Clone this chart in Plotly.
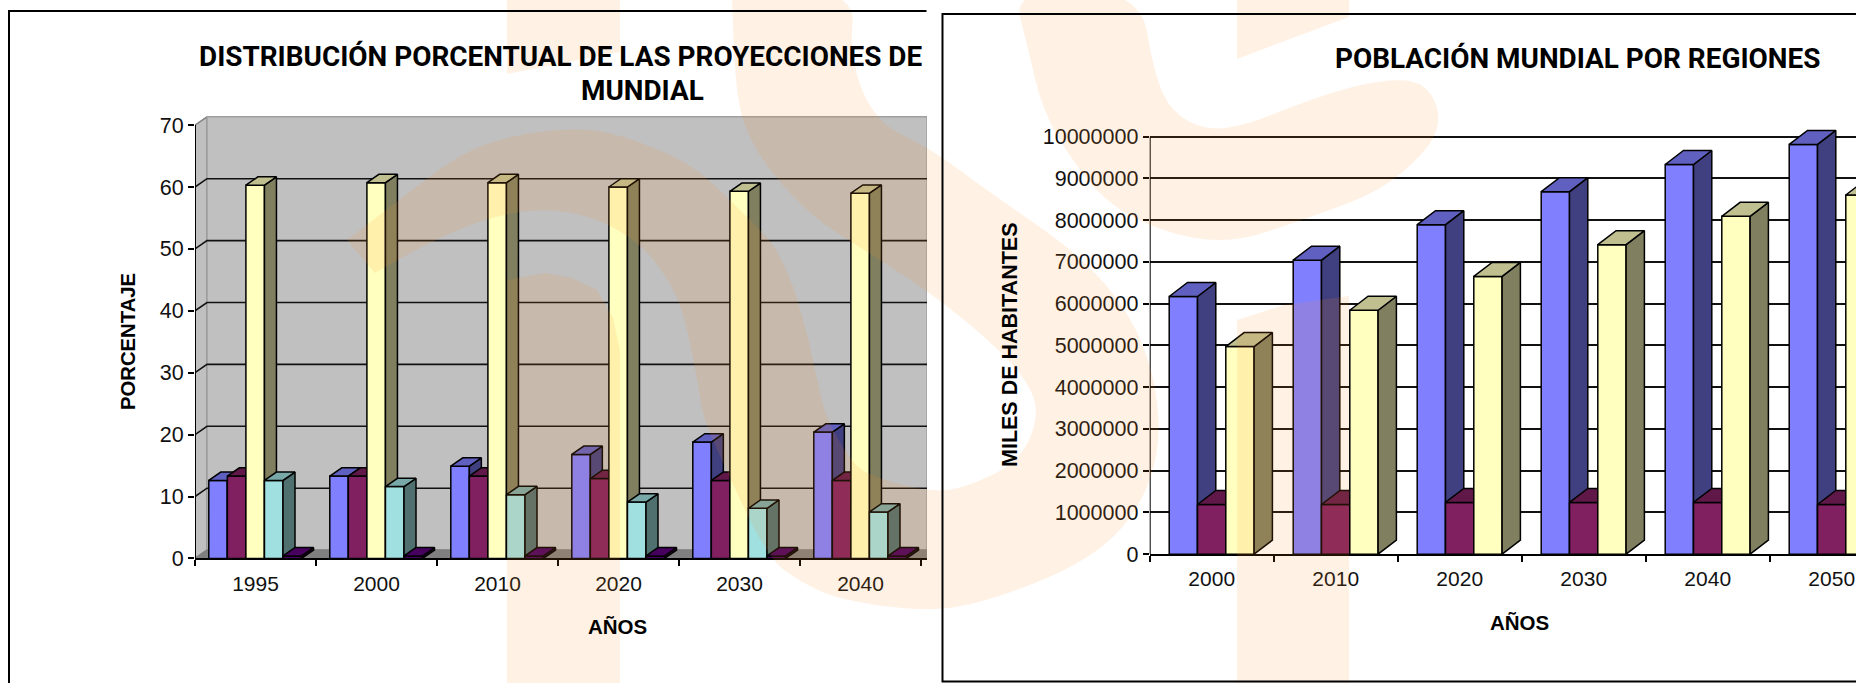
import plotly.graph_objects as go

# ---------- data ----------
YEARS_L = ["1995", "2000", "2010", "2020", "2030", "2040"]
L_BLUE = [12.6, 13.3, 14.9, 16.8, 18.8, 20.4]
L_MAROON = [13.3, 13.3, 13.3, 12.9, 12.6, 12.6]
L_YELLOW = [60.3, 60.7, 60.7, 60.0, 59.3, 59.0]
L_TEAL = [12.6, 11.6, 10.3, 9.1, 8.1, 7.5]
L_PURPLE = [0.4, 0.4, 0.4, 0.4, 0.4, 0.4]
L_TICKS = [0, 10, 20, 30, 40, 50, 60, 70]

YEARS_R = ["2000", "2010", "2020", "2030", "2040", "2050"]
R_BLUE = [6170000, 7040000, 7890000, 8680000, 9330000, 9810000]
R_MAROON = [1190000, 1190000, 1240000, 1240000, 1240000, 1190000]
R_YELLOW = [4970000, 5840000, 6650000, 7410000, 8090000, 8600000]
R_TICKS = [0, 1000000, 2000000, 3000000, 4000000, 5000000, 6000000, 7000000, 8000000, 9000000, 10000000]

TITLE_L1 = "DISTRIBUCIÓN PORCENTUAL DE LAS PROYECCIONES DE"
TITLE_L2 = "MUNDIAL"
TITLE_R = "POBLACIÓN MUNDIAL POR REGIONES"
YTITLE_L = "PORCENTAJE"
YTITLE_R = "MILES DE HABITANTES"
XTITLE = "AÑOS"

# ---------- colours: front, side, top ----------
BLUE = ("#8080FF", "#404080", "#6060C0")
MAROON = ("#802060", "#401030", "#601848")
YELLOW = ("#FFFFC0", "#808060", "#BFBF90")
TEAL = ("#A0E0E0", "#507070", "#78A8A8")
PURPLE = ("#600080", "#300040", "#480060")
WM = "rgba(255,140,30,0.12)"

W, H = 1856, 683
FONT = "Liberation Sans"
HEAD = "Roboto"

# ---------- geometry in pixels ----------
L_X0, L_X1, L_Y0, L_STEP = 195.0, 927.0, 558.4, 6.19     # px per unit
L_CAT = 121.0
R_X0, R_X1, R_Y0, R_STEP = 1149.7, 1856.0, 554.2, 41.77e-6
R_CAT = 124.0


def px(x):
    return x / W


def py(y):
    return 1 - y / H


def smooth_path(points):
    """Closed path rounded through midpoints, in paper coordinates."""
    pts = [(px(a), py(b)) for a, b in points]
    n = len(pts)
    mid = lambda p, q: ((p[0] + q[0]) / 2, (p[1] + q[1]) / 2)
    m0 = mid(pts[-1], pts[0])
    d = f"M{m0[0]:.5f},{m0[1]:.5f}"
    for i in range(n):
        m = mid(pts[i], pts[(i + 1) % n])
        d += f" Q{pts[i][0]:.5f},{pts[i][1]:.5f} {m[0]:.5f},{m[1]:.5f}"
    return d + " Z"


fig = go.Figure()
layout = dict(
    template="none",
    width=W, height=H, autosize=False, margin=dict(l=0, r=0, t=0, b=0, pad=0),
    paper_bgcolor="white", plot_bgcolor="rgba(0,0,0,0)", showlegend=False,
    font=dict(family=FONT, color="#111111", size=21), hovermode=False,
)


def add_chart(main, x0, x1, y0, step, cat_w, cats, ticks, ymax, series, left_gap, bar_w_px, dx_px, dy_px, next_axis, wall):
    xa, ya = ("xaxis", "yaxis") if main == 1 else (f"xaxis{main}", f"yaxis{main}")
    xid, yid = ("x", "y") if main == 1 else (f"x{main}", f"y{main}")
    xmin, xmax = -0.5, (x1 - x0) / cat_w - 0.5
    idx = list(range(len(cats)))
    bounds = [i - 0.5 for i in range(len(cats) + 1) if i - 0.5 <= xmax]
    layout[xa] = dict(
        domain=[px(x0), px(x1)], range=[xmin, xmax], anchor=yid, tickmode="array", tickvals=idx, ticktext=cats,
        ticks="", showgrid=False, zeroline=False, showline=True, linecolor="#000", linewidth=2, automargin=False,
        tickfont=dict(size=21, family=FONT, color="#111"), ticklabelstandoff=5,
        minor=dict(tickmode="array", tickvals=bounds, ticks="outside", ticklen=6, tickwidth=1.5, tickcolor="#000", showgrid=False),
    )
    layout[ya] = dict(
        domain=[py(y0), py(y0 - ymax * step)], range=[0, ymax], anchor=xid, tickmode="array", tickvals=ticks,
        ticks="outside", ticklen=6, tickwidth=1.5, tickcolor="#000", zeroline=False, showline=False, automargin=False,
        showgrid=not wall, gridcolor="#111", gridwidth=1.5, tickformat="d",
        tickfont=dict(size=21.5, family=FONT, color="#111"),
    )
    dx, dy = dx_px / cat_w, dy_px / step
    top = ticks[-1]
    if wall:
        wx = xmin + dx
        for xs, ys, col, lc in [
            ([xmin, wx, wx, xmin, xmin], [0, dy, top + dy, top, 0], "#C0C0C0", "#808080"),
            ([wx, xmax, xmax, wx, wx], [dy, dy, top + dy, top + dy, dy], "#C0C0C0", "#A0A0A0"),
            ([xmin, wx, xmax, xmax, xmin], [0, dy, dy, 0, 0], "#808080", "#808080"),
        ]:
            fig.add_trace(go.Scatter(x=xs, y=ys, mode="lines", fill="toself", fillcolor=col,
                                     line=dict(color=lc, width=1.5), xaxis=xid, yaxis=yid))
        gx, gy = [], []
        for v in ticks[1:-1]:
            gx += [xmin, wx, xmax, None]
            gy += [v, v + dy, v + dy, None]
        fig.add_trace(go.Scatter(x=gx, y=gy, mode="lines", line=dict(color="#111", width=1.6), xaxis=xid, yaxis=yid))
    fig.add_trace(go.Scatter(x=[xmin, xmin], y=[0, top], mode="lines", line=dict(color="#000", width=2),
                             cliponaxis=False, xaxis=xid, yaxis=yid))

    bw = bar_w_px / cat_w
    start = -0.5 + left_gap / cat_w
    for k, (vals, (front, side, topc)) in enumerate(series):
        n = next_axis + k
        layout[f"xaxis{n}"] = dict(overlaying=xid, range=[xmin, xmax], visible=False, anchor=f"y{n}")
        layout[f"yaxis{n}"] = dict(overlaying=yid, range=[0, ymax], visible=False, anchor=f"x{n}")
        off = start + k * bw
        fig.add_trace(go.Bar(x=idx, y=vals, offset=off, width=bw, marker=dict(color=front, line=dict(color="#000", width=1.5)),
                             xaxis=f"x{n}", yaxis=f"y{n}"))
        sx, sy, tx, ty = [], [], [], []
        for i, v in zip(idx, vals):
            a, b = i + off, i + off + bw
            sx += [b, b + dx, b + dx, b, b, None]
            sy += [0, dy, v + dy, v, 0, None]
            tx += [a, a + dx, b + dx, b, a, None]
            ty += [v, v + dy, v + dy, v, v, None]
        fig.add_trace(go.Scatter(x=sx, y=sy, mode="lines", fill="toself", fillcolor=side,
                                 line=dict(color="#000", width=1.5), xaxis=f"x{n}", yaxis=f"y{n}"))
        fig.add_trace(go.Scatter(x=tx, y=ty, mode="lines", fill="toself", fillcolor=topc,
                                 line=dict(color="#000", width=1.5), xaxis=f"x{n}", yaxis=f"y{n}"))


add_chart(1, L_X0, L_X1, L_Y0, L_STEP, L_CAT, YEARS_L, L_TICKS, 72,
          [(L_BLUE, BLUE), (L_MAROON, MAROON), (L_YELLOW, YELLOW), (L_TEAL, TEAL), (L_PURPLE, PURPLE)],
          13.8, 18.55, 12.0, 8.3, 3, True)
add_chart(2, R_X0, R_X1, R_Y0, R_STEP, R_CAT, YEARS_R, R_TICKS, 10500000,
          [(R_BLUE, BLUE), (R_MAROON, MAROON), (R_YELLOW, YELLOW)],
          19.5, 28.3, 18.3, 14.0, 8, False)

# ---------- text ----------
annots = [
    (198.5, 56.5, TITLE_L1, 27.9, HEAD, True, "left", 0),
    (642, 90.5, TITLE_L2, 27.9, HEAD, True, "center", 0),
    (1577, 59, TITLE_R, 27.9, HEAD, True, "center", 0),
    (128, 342, YTITLE_L, 20.3, FONT, True, "center", -90),
    (1010, 345, YTITLE_R, 21.5, FONT, True, "center", -90),
    (617, 626, XTITLE, 20.5, FONT, True, "center", 0),
    (1519.5, 622, XTITLE, 20.5, FONT, True, "center", 0),
]
layout["annotations"] = [
    dict(x=px(x), y=py(y), xref="paper", yref="paper", text=f"<b>{t}</b>", showarrow=False, xanchor=a, yanchor="middle",
         textangle=ang, font=dict(size=s, family=f, color="#000"), borderpad=0, borderwidth=0)
    for x, y, t, s, f, b, a, ang in annots
]

# ---------- background logo (drawn on top as a tint) and panel frames ----------
SWIRL = [(732, 0), (735, 78), (743, 127), (770, 172), (813, 217), (853, 243), (927, 290), (989, 340), (1030, 383),
         (1039, 418), (1019, 462), (965, 488), (930, 492), (873, 477), (852, 463), (827, 420), (820, 393), (813, 360),
         (803, 317), (790, 277), (773, 243), (747, 217), (713, 183), (687, 163), (653, 147), (613, 133), (573, 128),
         (512, 135), (462, 153), (412, 190), (347, 240), (347, 240), (375, 273), (375, 273), (428, 243), (488, 217), (545, 208),
         (595, 217), (640, 243), (667, 277), (683, 310), (697, 377), (703, 417), (717, 450), (767, 557), (800, 582),
         (840, 600), (927, 612), (989, 601), (1078, 566), (1131, 523), (1160, 457), (1157, 383), (1131, 314), (1078, 253),
         (989, 192), (930, 148), (875, 122), (849, 57), (856, -10), (732, -10)]
HOOK = [(1013, -10), (1027, 44), (1042, 109), (1072, 161), (1113, 209), (1178, 237), (1237, 242), (1308, 218),
        (1379, 192), (1426, 152), (1441, 122), (1432, 91), (1408, 78), (1355, 85), (1296, 105), (1249, 124),
        (1208, 131), (1172, 113), (1154, 74), (1140, -10)]
BAND_TOP_L = [(507, 0), (620, 0), (620, 52), (507, 74)]
BAND_TOP_R = [(1237, 0), (1349, 0), (1349, 17), (1237, 59)]
BAND_BOT_R = [(1237, 320), (1284, 305), (1349, 296), (1349, 683), (1237, 683)]
STEM_L = [(507, 683), (507, 280), (545, 273), (572, 278), (597, 290), (613, 318), (620, 350), (620, 683)]


def straight(points):
    return "M" + " L".join(f"{px(a):.5f},{py(b):.5f}" for a, b in points) + " Z"


shapes = []
for d in [smooth_path(SWIRL), smooth_path(HOOK), straight(BAND_TOP_L), straight(BAND_TOP_R), straight(BAND_BOT_R), straight(STEM_L)]:
    shapes.append(dict(type="path", path=d, xref="paper", yref="paper", fillcolor=WM, line=dict(width=0), layer="above"))
frames = ["M%.5f,%.5f L%.5f,%.5f L%.5f,%.5f" % (px(926.5), py(11), px(9), py(11), px(9), py(690)),
          "M%.5f,%.5f L%.5f,%.5f L%.5f,%.5f L%.5f,%.5f" % (px(1860), py(14), px(942.5), py(14), px(942.5), py(681.5), px(1860), py(681.5))]
for d in frames:
    shapes.append(dict(type="path", path=d, xref="paper", yref="paper", line=dict(color="#000", width=2), layer="above"))
layout["shapes"] = shapes

fig.update_layout(**layout)
fig.write_html("out.html", config={"displayModeBar": False},
               post_script="document.body.style.margin='0';document.documentElement.style.overflow='hidden';")
